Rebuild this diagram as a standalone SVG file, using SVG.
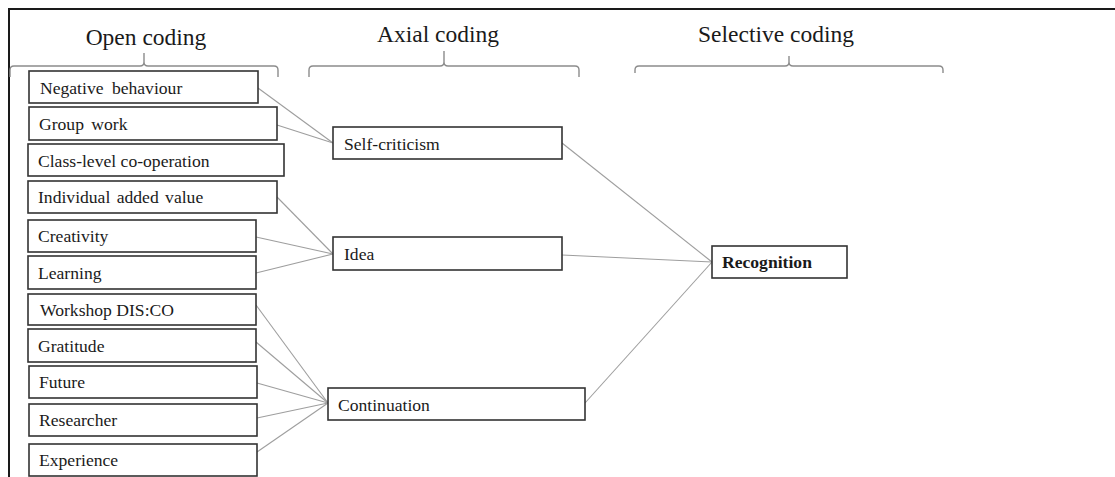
<svg xmlns="http://www.w3.org/2000/svg" width="1115" height="477" viewBox="0 0 1115 477">
  <style>
    .frame { fill: none; stroke: #1a1a1a; stroke-width: 2; }
    .brace { fill: none; stroke: #8c8c8c; stroke-width: 1.4; }
    .head { font-family: "Liberation Serif", "Times New Roman", serif; font-size: 23.5px; fill: #1a1a1a; text-anchor: middle; }
    .box { fill: #ffffff; stroke: #333333; stroke-width: 1.6; }
    .label { font-family: "Liberation Serif", "Times New Roman", serif; font-size: 17.6px; fill: #1a1a1a; }
    .bold { font-weight: bold; }
    .link { fill: none; stroke: #9e9e9e; stroke-width: 1.1; }
  </style>

  <!-- outer frame (top and left edges) -->
  <path class="frame" d="M9,477 L9,9 L1115,9"/>

  <!-- column headings with braces -->
  <g id="heading-open">
    <text class="head" x="146" y="45">Open coding</text>
    <path class="brace" d="M10,77 L10,70 Q10,66 14,66 L140,66 Q144,66 144,62 L144,53 M144,62 Q144,66 148,66 L274,66 Q278,66 278,70 L278,77"/>
  </g>
  <g id="heading-axial">
    <text class="head" x="438" y="42">Axial coding</text>
    <path class="brace" d="M309,77 L309,70 Q309,66 313,66 L440,66 Q444,66 444,62 L444,51 M444,62 Q444,66 448,66 L575,66 Q579,66 579,70 L579,77"/>
  </g>
  <g id="heading-selective">
    <text class="head" x="776" y="42">Selective coding</text>
    <path class="brace" d="M635,73 L635,70 Q635,66 639,66 L785,66 Q789,66 789,62 L789,56 M789,62 Q789,66 793,66 L939,66 Q943,66 943,70 L943,73"/>
  </g>

  <!-- connectors -->
  <g id="connectors">
    <line class="link" x1="258" y1="88" x2="333" y2="143"/>
    <line class="link" x1="277" y1="125" x2="333" y2="143"/>
    <line class="link" x1="277" y1="197" x2="333" y2="254"/>
    <line class="link" x1="256" y1="237" x2="333" y2="254"/>
    <line class="link" x1="256" y1="273" x2="333" y2="254"/>
    <line class="link" x1="256" y1="305" x2="328" y2="403"/>
    <line class="link" x1="256" y1="342" x2="328" y2="403"/>
    <line class="link" x1="257" y1="383" x2="328" y2="403"/>
    <line class="link" x1="257" y1="418" x2="328" y2="403"/>
    <line class="link" x1="257" y1="452" x2="328" y2="403"/>
    <line class="link" x1="562" y1="143" x2="712" y2="262"/>
    <line class="link" x1="562" y1="255" x2="712" y2="262"/>
    <line class="link" x1="585" y1="403" x2="712" y2="262"/>
  </g>

  <!-- open codes -->
  <g id="negative-behaviour">
    <rect class="box" x="29" y="71" width="229" height="32"/>
    <text class="label" x="40" y="94" word-spacing="4">Negative behaviour</text>
  </g>
  <g id="group-work">
    <rect class="box" x="29" y="107" width="248" height="33"/>
    <text class="label" x="39" y="130" word-spacing="3">Group work</text>
  </g>
  <g id="class-level-co-operation">
    <rect class="box" x="28" y="144" width="256" height="32"/>
    <text class="label" x="38" y="167">Class-level co-operation</text>
  </g>
  <g id="individual-added-value">
    <rect class="box" x="28" y="181" width="249" height="32"/>
    <text class="label" x="38" y="203" word-spacing="2">Individual added value</text>
  </g>
  <g id="creativity">
    <rect class="box" x="28" y="220" width="228" height="32"/>
    <text class="label" x="38" y="242">Creativity</text>
  </g>
  <g id="learning">
    <rect class="box" x="28" y="256" width="228" height="33"/>
    <text class="label" x="38" y="279">Learning</text>
  </g>
  <g id="workshop-disco">
    <rect class="box" x="28" y="294" width="228" height="31"/>
    <text class="label" x="40" y="316">Workshop DIS:CO</text>
  </g>
  <g id="gratitude">
    <rect class="box" x="28" y="329" width="228" height="33"/>
    <text class="label" x="38" y="352">Gratitude</text>
  </g>
  <g id="future">
    <rect class="box" x="29" y="366" width="228" height="32"/>
    <text class="label" x="39" y="388">Future</text>
  </g>
  <g id="researcher">
    <rect class="box" x="29" y="404" width="228" height="32"/>
    <text class="label" x="39" y="426">Researcher</text>
  </g>
  <g id="experience">
    <rect class="box" x="29" y="444" width="228" height="32"/>
    <text class="label" x="39" y="466">Experience</text>
  </g>

  <!-- axial codes -->
  <g id="self-criticism">
    <rect class="box" x="333" y="127" width="229" height="32"/>
    <text class="label" x="344" y="150">Self-criticism</text>
  </g>
  <g id="idea">
    <rect class="box" x="333" y="237" width="229" height="33"/>
    <text class="label" x="344" y="260">Idea</text>
  </g>
  <g id="continuation">
    <rect class="box" x="328" y="388" width="257" height="32"/>
    <text class="label" x="338" y="411">Continuation</text>
  </g>

  <!-- selective code -->
  <g id="recognition">
    <rect class="box" x="712" y="246" width="135" height="32"/>
    <text class="label bold" x="722" y="268">Recognition</text>
  </g>
</svg>
